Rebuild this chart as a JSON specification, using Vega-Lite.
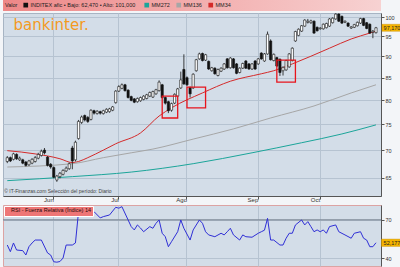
{
  "$schema": "https://vega.github.io/schema/vega-lite/v6.json",
  "background": "#f3f5f8",
  "padding": {"left": 1, "top": 0, "right": 0, "bottom": 0},
  "spacing": 1,
  "resolve": {"scale": {"x": "shared", "fill": "independent", "stroke": "independent", "color": "independent"}, "legend": {"fill": "independent", "stroke": "independent"}},
  "datasets": {
    "k": [
      {"d":"05-11","o":67.9,"h":68.9,"l":67.6,"c":68.6},
      {"d":"05-14","o":68.6,"h":68.8,"l":67.8,"c":68.0},
      {"d":"05-15","o":68.3,"h":69.5,"l":68.1,"c":69.3},
      {"d":"05-16","o":69.2,"h":69.4,"l":68.2,"c":68.4},
      {"d":"05-17","o":68.2,"h":68.8,"l":68.0,"c":68.5},
      {"d":"05-18","o":68.2,"h":68.4,"l":67.4,"c":67.6},
      {"d":"05-21","o":67.8,"h":68.0,"l":67.0,"c":67.2},
      {"d":"05-22","o":67.3,"h":68.2,"l":67.1,"c":68.0},
      {"d":"05-23","o":67.6,"h":68.5,"l":67.4,"c":68.3},
      {"d":"05-24","o":67.9,"h":68.9,"l":67.7,"c":68.6},
      {"d":"05-25","o":68.5,"h":69.5,"l":68.3,"c":69.2},
      {"d":"05-28","o":69.0,"h":70.1,"l":68.8,"c":69.8},
      {"d":"05-29","o":70.0,"h":70.4,"l":69.2,"c":69.5},
      {"d":"05-30","o":68.7,"h":68.9,"l":67.0,"c":67.2},
      {"d":"05-31","o":67.4,"h":67.6,"l":66.6,"c":66.9},
      {"d":"06-01","o":66.8,"h":67.0,"l":64.9,"c":65.1},
      {"d":"06-04","o":64.6,"h":65.5,"l":64.3,"c":65.3},
      {"d":"06-05","o":65.2,"h":66.0,"l":64.9,"c":65.8},
      {"d":"06-06","o":65.6,"h":66.5,"l":65.4,"c":66.3},
      {"d":"06-07","o":66.2,"h":67.0,"l":66.0,"c":66.7},
      {"d":"06-08","o":66.6,"h":67.7,"l":66.4,"c":67.5},
      {"d":"06-11","o":70.4,"h":70.8,"l":66.5,"c":68.0},
      {"d":"06-12","o":68.2,"h":71.8,"l":67.9,"c":71.5},
      {"d":"06-13","o":72.2,"h":75.9,"l":72.0,"c":75.6},
      {"d":"06-14","o":75.4,"h":76.8,"l":75.1,"c":76.5},
      {"d":"06-15","o":76.8,"h":77.0,"l":75.6,"c":75.9},
      {"d":"06-18","o":76.4,"h":76.7,"l":75.3,"c":75.6},
      {"d":"06-19","o":76.0,"h":78.1,"l":75.8,"c":77.9},
      {"d":"06-20","o":77.8,"h":78.0,"l":77.0,"c":77.3},
      {"d":"06-21","o":77.2,"h":77.9,"l":77.0,"c":77.7},
      {"d":"06-22","o":77.6,"h":77.8,"l":77.0,"c":77.3},
      {"d":"06-25","o":77.2,"h":78.0,"l":77.0,"c":77.8},
      {"d":"06-26","o":77.5,"h":78.3,"l":77.3,"c":78.1},
      {"d":"06-27","o":77.6,"h":78.4,"l":77.4,"c":78.2},
      {"d":"06-28","o":77.9,"h":78.8,"l":77.7,"c":78.6},
      {"d":"06-29","o":79.5,"h":82.2,"l":79.3,"c":82.0},
      {"d":"07-02","o":82.0,"h":83.3,"l":81.8,"c":83.0},
      {"d":"07-03","o":82.6,"h":83.7,"l":82.4,"c":83.4},
      {"d":"07-04","o":83.4,"h":83.6,"l":81.9,"c":82.1},
      {"d":"07-05","o":82.2,"h":82.4,"l":80.4,"c":80.6},
      {"d":"07-06","o":80.8,"h":81.0,"l":79.8,"c":80.0},
      {"d":"07-09","o":80.3,"h":80.5,"l":79.4,"c":79.6},
      {"d":"07-10","o":79.7,"h":80.6,"l":79.5,"c":80.4},
      {"d":"07-11","o":79.9,"h":80.8,"l":79.7,"c":80.6},
      {"d":"07-12","o":80.2,"h":81.1,"l":80.0,"c":80.9},
      {"d":"07-13","o":80.4,"h":81.4,"l":80.2,"c":81.2},
      {"d":"07-16","o":80.9,"h":81.9,"l":80.7,"c":81.7},
      {"d":"07-17","o":80.7,"h":82.1,"l":80.5,"c":81.9},
      {"d":"07-18","o":81.4,"h":82.5,"l":81.2,"c":82.3},
      {"d":"07-19","o":82.1,"h":84.4,"l":81.9,"c":84.0},
      {"d":"07-20","o":83.4,"h":83.6,"l":80.4,"c":80.6},
      {"d":"07-23","o":80.6,"h":80.8,"l":79.1,"c":79.4},
      {"d":"07-24","o":79.7,"h":79.9,"l":77.3,"c":77.8},
      {"d":"07-25","o":77.9,"h":79.5,"l":77.6,"c":79.3},
      {"d":"07-26","o":79.4,"h":81.5,"l":79.2,"c":81.3},
      {"d":"07-27","o":80.9,"h":82.7,"l":80.7,"c":82.5},
      {"d":"07-30","o":82.7,"h":86.4,"l":82.5,"c":84.5},
      {"d":"07-31","o":86.9,"h":90.5,"l":83.4,"c":83.6},
      {"d":"08-01","o":85.0,"h":85.3,"l":83.1,"c":83.4},
      {"d":"08-02","o":82.8,"h":83.0,"l":80.6,"c":81.4},
      {"d":"08-03","o":82.7,"h":86.0,"l":82.5,"c":85.8},
      {"d":"08-06","o":86.6,"h":89.4,"l":86.4,"c":89.2},
      {"d":"08-07","o":89.4,"h":90.9,"l":89.2,"c":90.6},
      {"d":"08-08","o":90.7,"h":90.9,"l":88.8,"c":89.0},
      {"d":"08-09","o":89.1,"h":90.6,"l":88.9,"c":90.4},
      {"d":"08-10","o":88.8,"h":89.0,"l":86.8,"c":87.0},
      {"d":"08-13","o":86.6,"h":87.5,"l":86.4,"c":87.3},
      {"d":"08-14","o":87.2,"h":87.4,"l":85.7,"c":85.9},
      {"d":"08-15","o":85.5,"h":87.1,"l":85.3,"c":86.9},
      {"d":"08-16","o":86.5,"h":87.4,"l":86.3,"c":87.2},
      {"d":"08-17","o":87.0,"h":88.4,"l":86.8,"c":88.2},
      {"d":"08-20","o":89.4,"h":89.6,"l":87.1,"c":87.3},
      {"d":"08-21","o":87.3,"h":89.8,"l":87.1,"c":89.6},
      {"d":"08-22","o":89.4,"h":89.6,"l":87.1,"c":87.3},
      {"d":"08-23","o":88.2,"h":88.4,"l":85.8,"c":86.0},
      {"d":"08-24","o":86.2,"h":87.4,"l":86.0,"c":87.2},
      {"d":"08-27","o":87.2,"h":88.5,"l":87.0,"c":88.3},
      {"d":"08-28","o":88.9,"h":89.1,"l":87.0,"c":87.2},
      {"d":"08-29","o":88.2,"h":88.4,"l":86.8,"c":87.0},
      {"d":"08-30","o":87.0,"h":88.4,"l":86.8,"c":88.2},
      {"d":"08-31","o":88.9,"h":89.1,"l":86.8,"c":87.0},
      {"d":"09-03","o":88.2,"h":89.6,"l":88.0,"c":89.4},
      {"d":"09-04","o":90.8,"h":91.0,"l":89.2,"c":89.4},
      {"d":"09-05","o":88.9,"h":90.8,"l":88.7,"c":90.6},
      {"d":"09-06","o":90.6,"h":96.2,"l":90.4,"c":95.5},
      {"d":"09-07","o":93.8,"h":94.2,"l":89.0,"c":89.2},
      {"d":"09-10","o":89.0,"h":90.7,"l":88.8,"c":90.5},
      {"d":"09-11","o":89.7,"h":89.9,"l":87.5,"c":87.7},
      {"d":"09-12","o":89.3,"h":89.5,"l":85.4,"c":86.2},
      {"d":"09-13","o":86.6,"h":87.6,"l":85.5,"c":87.4},
      {"d":"09-14","o":86.8,"h":89.2,"l":86.6,"c":89.0},
      {"d":"09-17","o":87.5,"h":90.8,"l":87.3,"c":90.6},
      {"d":"09-18","o":89.0,"h":92.2,"l":88.8,"c":92.0},
      {"d":"09-19","o":93.8,"h":96.4,"l":93.6,"c":96.2},
      {"d":"09-20","o":95.2,"h":97.0,"l":95.0,"c":96.8},
      {"d":"09-21","o":96.3,"h":97.9,"l":96.1,"c":97.7},
      {"d":"09-24","o":97.6,"h":99.4,"l":97.4,"c":99.2},
      {"d":"09-25","o":98.6,"h":99.5,"l":98.3,"c":98.9},
      {"d":"09-26","o":98.5,"h":99.3,"l":98.2,"c":99.0},
      {"d":"09-27","o":98.9,"h":99.1,"l":95.6,"c":95.8},
      {"d":"09-28","o":97.3,"h":97.5,"l":96.2,"c":96.4},
      {"d":"10-01","o":96.9,"h":97.3,"l":96.7,"c":97.1},
      {"d":"10-02","o":96.9,"h":98.3,"l":96.7,"c":98.1},
      {"d":"10-03","o":97.2,"h":98.5,"l":97.0,"c":98.3},
      {"d":"10-04","o":97.6,"h":99.7,"l":97.4,"c":99.5},
      {"d":"10-05","o":98.5,"h":99.9,"l":98.3,"c":99.7},
      {"d":"10-08","o":99.5,"h":101.0,"l":99.3,"c":100.8},
      {"d":"10-09","o":100.8,"h":101.0,"l":98.7,"c":98.9},
      {"d":"10-10","o":100.2,"h":100.4,"l":98.2,"c":98.4},
      {"d":"10-11","o":98.6,"h":99.1,"l":98.4,"c":98.9},
      {"d":"10-12","o":98.4,"h":98.6,"l":97.4,"c":97.6},
      {"d":"10-15","o":97.1,"h":97.6,"l":96.9,"c":97.4},
      {"d":"10-16","o":97.3,"h":98.2,"l":97.1,"c":98.0},
      {"d":"10-17","o":97.7,"h":98.8,"l":97.5,"c":98.6},
      {"d":"10-18","o":98.4,"h":99.8,"l":98.2,"c":99.6},
      {"d":"10-19","o":99.6,"h":99.8,"l":97.6,"c":97.8},
      {"d":"10-22","o":98.5,"h":98.7,"l":96.8,"c":97.0},
      {"d":"10-23","o":98.1,"h":98.3,"l":95.6,"c":95.8},
      {"d":"10-24","o":96.0,"h":96.6,"l":94.5,"c":96.3},
      {"d":"10-25","o":95.9,"h":97.4,"l":95.7,"c":97.17}
    ],
    "ma": [
      {"d":"05-11","s":"MM34","v":69.9},{"d":"05-24","s":"MM34","v":69.3},{"d":"06-05","s":"MM34","v":68.4},{"d":"06-11","s":"MM34","v":67.7},{"d":"06-13","s":"MM34","v":67.9},{"d":"06-18","s":"MM34","v":68.6},{"d":"06-25","s":"MM34","v":70.0},{"d":"06-29","s":"MM34","v":71.2},{"d":"07-11","s":"MM34","v":73.3},{"d":"07-19","s":"MM34","v":76.7},{"d":"07-25","s":"MM34","v":78.4},{"d":"08-08","s":"MM34","v":81.6},{"d":"08-21","s":"MM34","v":84.2},{"d":"09-04","s":"MM34","v":85.9},{"d":"09-10","s":"MM34","v":86.6},{"d":"09-18","s":"MM34","v":88.2},{"d":"10-04","s":"MM34","v":92.0},{"d":"10-15","s":"MM34","v":94.3},{"d":"10-23","s":"MM34","v":95.8},{"d":"10-25","s":"MM34","v":96.3},
      {"d":"05-11","s":"MM136","v":66.9},{"d":"06-11","s":"MM136","v":67.5},{"d":"06-25","s":"MM136","v":68.6},{"d":"07-06","s":"MM136","v":69.5},{"d":"07-17","s":"MM136","v":70.2},{"d":"08-03","s":"MM136","v":72.1},{"d":"08-22","s":"MM136","v":74.1},{"d":"09-07","s":"MM136","v":76.3},{"d":"09-27","s":"MM136","v":78.8},{"d":"10-15","s":"MM136","v":81.6},{"d":"10-25","s":"MM136","v":83.4},
      {"d":"05-11","s":"MM272","v":64.5},{"d":"06-11","s":"MM272","v":65.2},{"d":"07-06","s":"MM272","v":66.0},{"d":"08-03","s":"MM272","v":67.5},{"d":"08-30","s":"MM272","v":69.5},{"d":"09-21","s":"MM272","v":71.4},{"d":"10-10","s":"MM272","v":73.1},{"d":"10-25","s":"MM272","v":74.9}
    ],
    "rsi": [
      {"d":"05-11","v":50.4},{"d":"05-14","v":45.2},{"d":"05-15","v":52.0},{"d":"05-16","v":46.5},{"d":"05-18","v":46.0},{"d":"05-21","v":42.6},{"d":"05-22","v":49.1},{"d":"05-23","v":52.0},{"d":"05-24","v":54.3},{"d":"05-28","v":54.3},{"d":"05-30","v":44.2},{"d":"05-31","v":42.6},{"d":"06-01","v":37.3},{"d":"06-04","v":37.0},{"d":"06-05","v":37.5},{"d":"06-06","v":40.2},{"d":"06-07","v":50.4},{"d":"06-11","v":50.4},{"d":"06-12","v":52.0},{"d":"06-13","v":76.5},{"d":"06-14","v":76.0},{"d":"06-15","v":76.5},{"d":"06-18","v":73.1},{"d":"06-20","v":76.5},{"d":"06-22","v":71.6},{"d":"06-25","v":72.6},{"d":"06-27","v":73.9},{"d":"06-29","v":79.9},{"d":"07-02","v":79.2},{"d":"07-03","v":80.4},{"d":"07-05","v":70.0},{"d":"07-06","v":64.8},{"d":"07-09","v":62.2},{"d":"07-10","v":66.1},{"d":"07-11","v":63.7},{"d":"07-12","v":60.8},{"d":"07-16","v":64.8},{"d":"07-17","v":63.5},{"d":"07-18","v":67.4},{"d":"07-19","v":70.0},{"d":"07-20","v":59.6},{"d":"07-23","v":56.9},{"d":"07-24","v":49.1},{"d":"07-25","v":53.0},{"d":"07-27","v":60.8},{"d":"07-30","v":70.0},{"d":"07-31","v":63.5},{"d":"08-02","v":54.3},{"d":"08-03","v":62.2},{"d":"08-07","v":70.0},{"d":"08-08","v":67.4},{"d":"08-09","v":60.8},{"d":"08-10","v":58.3},{"d":"08-14","v":56.9},{"d":"08-16","v":59.6},{"d":"08-17","v":58.3},{"d":"08-20","v":60.8},{"d":"08-21","v":63.5},{"d":"08-22","v":58.3},{"d":"08-24","v":54.3},{"d":"08-27","v":58.3},{"d":"08-28","v":56.9},{"d":"08-30","v":56.5},{"d":"09-03","v":59.6},{"d":"09-04","v":60.8},{"d":"09-05","v":62.0},{"d":"09-06","v":71.3},{"d":"09-07","v":54.3},{"d":"09-10","v":54.3},{"d":"09-12","v":50.4},{"d":"09-13","v":50.4},{"d":"09-14","v":55.7},{"d":"09-17","v":59.6},{"d":"09-18","v":59.6},{"d":"09-19","v":66.1},{"d":"09-21","v":70.0},{"d":"09-24","v":66.1},{"d":"09-25","v":68.7},{"d":"09-26","v":64.8},{"d":"09-27","v":60.8},{"d":"09-28","v":62.2},{"d":"10-01","v":60.8},{"d":"10-02","v":62.2},{"d":"10-03","v":59.6},{"d":"10-04","v":64.8},{"d":"10-08","v":66.1},{"d":"10-09","v":60.8},{"d":"10-11","v":58.3},{"d":"10-15","v":55.7},{"d":"10-16","v":59.6},{"d":"10-18","v":60.8},{"d":"10-19","v":55.7},{"d":"10-22","v":54.3},{"d":"10-23","v":49.1},{"d":"10-24","v":49.1},{"d":"10-25","v":52.177}
    ]
  },
  "vconcat": [
    {
      "width": 378,
      "height": 11,
      "view": {"fill": {"gradient": "linear", "x1": 0, "y1": 0, "x2": 1, "y2": 0, "stops": [{"offset": 0, "color": "#ee8787"}, {"offset": 1, "color": "#f7d2d2"}]}, "stroke": null},
      "data": {"values": [{"s": "INDITEX"}, {"s": "MM272"}, {"s": "MM136"}, {"s": "MM34"}]},
      "mark": {"type": "square", "opacity": 0},
      "encoding": {
        "fill": {
          "field": "s", "type": "nominal",
          "scale": {"domain": ["INDITEX", "MM272", "MM136", "MM34"], "range": ["#111111", "#1ca59a", "#a6a6a6", "#d42a2a"]},
          "legend": {
            "orient": "top-left", "offset": 0, "direction": "horizontal", "padding": 2,
            "title": "Valor", "titleOrient": "left", "titleFont": "Liberation Sans", "titleFontSize": 5.5, "titleFontWeight": "normal", "titleColor": "#222", "titlePadding": 5,
            "labelFont": "Liberation Sans", "labelFontSize": 5.5, "labelColor": "#222", "labelOffset": 2, "labelLimit": 300,
            "symbolType": "square", "symbolSize": 22, "symbolOpacity": 1, "symbolStrokeWidth": 0, "columnPadding": 6,
            "labelExpr": "datum.value == 'INDITEX' ? 'INDITEX  afic • Bajo: 62,470 • Alto: 101,000' : datum.value"
          }
        }
      }
    },
    {
      "width": 378,
      "height": 183,
      "view": {"fill": "#d3dde8", "stroke": "#a7b4c3"},
      "layer": [
        {
          "data": {"values": [{"t": "bankinter."}]},
          "mark": {"type": "text", "align": "left", "baseline": "alphabetic", "font": "DejaVu Sans", "fontSize": 15, "color": "#f39a1f"},
          "encoding": {
            "x": {"datum": "05-15", "type": "ordinal"},
            "y": {"datum": 96.6, "type": "quantitative"},
            "text": {"field": "t"}
          }
        },
        {
          "data": {"values": [{"t": "© IT-Finanzas.com   Selección del período: Diario"}]},
          "mark": {"type": "text", "align": "left", "baseline": "middle", "font": "Liberation Sans", "fontSize": 5, "color": "#444", "dx": -3},
          "encoding": {
            "x": {"datum": "05-11", "type": "ordinal"},
            "y": {"datum": 62.7, "type": "quantitative"},
            "text": {"field": "t"}
          }
        },
        {
          "data": {"name": "ma"},
          "mark": {"type": "line", "strokeWidth": 1, "interpolate": "monotone"},
          "encoding": {
            "x": {"field": "d", "type": "ordinal", "title": null},
            "y": {"field": "v", "type": "quantitative", "title": null},
            "color": {"field": "s", "type": "nominal", "scale": {"domain": ["MM272", "MM136", "MM34"], "range": ["#1ca59a", "#a6a6a6", "#d42a2a"]}, "legend": null}
          }
        },
        {
          "data": {"name": "k"},
          "mark": {"type": "rule", "color": "#111", "strokeWidth": 0.8},
          "encoding": {
            "x": {"field": "d", "type": "ordinal", "title": null},
            "y": {"field": "l", "type": "quantitative", "title": null},
            "y2": {"field": "h"}
          }
        },
        {
          "data": {"name": "k"},
          "mark": {"type": "bar", "width": {"band": 0.72}, "stroke": "#111", "strokeWidth": 0.6},
          "encoding": {
            "x": {
              "field": "d", "type": "ordinal", "title": null,
              "scale": {"paddingInner": 0, "paddingOuter": 1.16, "align": 0.44},
              "axis": {
                "values": ["06-01", "07-02", "08-01", "09-03", "10-01"],
                "labelExpr": "datum.value == '06-01' ? 'Jun' : datum.value == '07-02' ? 'Jul' : datum.value == '08-01' ? 'Ago' : datum.value == '09-03' ? 'Sep' : 'Oct'",
                "labelAngle": 0, "labelFont": "Liberation Sans", "labelFontSize": 6, "labelColor": "#333", "labelPadding": 0,
                "grid": true, "gridColor": "#b6c3d1", "tickSize": 3, "tickColor": "#555", "domainColor": "#555"
              }
            },
            "y": {
              "field": "o", "type": "quantitative", "title": null,
              "scale": {"type": "log", "domain": [61.9, 101.1], "nice": false, "zero": false},
              "axis": {
                "orient": "right", "values": [65, 70, 75, 80, 85, 90, 95, 100], "format": "d",
                "labelFont": "Liberation Sans", "labelFontSize": 5.5, "labelColor": "#333", "labelPadding": 1,
                "grid": true, "gridColor": "#b6c3d1", "tickSize": 3, "tickColor": "#555", "domainColor": "#555"
              }
            },
            "y2": {"field": "c"},
            "fill": {"condition": {"test": "datum.c >= datum.o", "value": "#ffffff"}, "value": "#111111"}
          }
        },
        {
          "data": {"values": [
            {"a": "07-20", "b": "07-27", "lo": 76.3, "hi": 80.9},
            {"a": "08-01", "b": "08-09", "lo": 78.4, "hi": 82.9},
            {"a": "09-11", "b": "09-19", "lo": 84.0, "hi": 89.1}
          ]},
          "mark": {"type": "rect", "fill": null, "stroke": "#e8141c", "strokeWidth": 1.3},
          "encoding": {
            "x": {"field": "a", "type": "ordinal", "title": null},
            "x2": {"field": "b"},
            "y": {"field": "lo", "type": "quantitative", "title": null},
            "y2": {"field": "hi"}
          }
        },
        {
          "data": {"values": [{"d": "10-25", "v": 97.17, "t": "97,170"}]},
          "layer": [
            {
              "mark": {"type": "point", "shape": "M-1,-0.35H1V0.35H-1Z", "size": 400, "filled": true, "fill": "#f5b400", "stroke": "#c58a00", "strokeWidth": 0.4, "opacity": 1, "xOffset": 16},
              "encoding": {
                "x": {"field": "d", "type": "ordinal", "title": null},
                "y": {"field": "v", "type": "quantitative", "title": null}
              }
            },
            {
              "mark": {"type": "text", "font": "Liberation Sans", "fontSize": 5.5, "color": "#222", "xOffset": 16, "baseline": "middle"},
              "encoding": {
                "x": {"field": "d", "type": "ordinal", "title": null},
                "y": {"field": "v", "type": "quantitative", "title": null},
                "text": {"field": "t"}
              }
            }
          ]
        }
      ]
    },
    {
      "width": 378,
      "height": 61,
      "view": {"fill": "#d3dde8", "stroke": "#dca3a3"},
      "layer": [
        {
          "data": {"values": [{}]},
          "mark": {"type": "rule", "color": "#7f8a98", "strokeWidth": 1.2},
          "encoding": {"y": {"datum": 70, "type": "quantitative"}}
        },
        {
          "data": {"name": "rsi"},
          "mark": {"type": "line", "strokeWidth": 1},
          "encoding": {
            "x": {
              "field": "d", "type": "ordinal", "title": null,
              "axis": {"values": ["06-01", "07-02", "08-01", "09-03", "10-01"], "labels": false, "ticks": false, "domain": false, "grid": true, "gridColor": "#b6c3d1"}
            },
            "y": {
              "field": "v", "type": "quantitative", "title": null,
              "scale": {"domain": [34, 81.7], "nice": false, "zero": false},
              "axis": {
                "orient": "right", "values": [40, 50, 60, 70],
                "labelFont": "Liberation Sans", "labelFontSize": 5.5, "labelColor": "#333", "labelPadding": 1,
                "grid": true, "gridColor": "#b6c3d1", "tickSize": 3, "tickColor": "#555", "domainColor": "#555"
              }
            },
            "stroke": {
              "datum": "RSI - Fuerza Relativa (Índice) 14", "type": "nominal",
              "scale": {"range": ["#2f2fd6"]},
              "legend": {
                "orient": "top-left", "offset": 1, "padding": 1.5, "title": null,
                "fillColor": "#ee7676", "strokeColor": "#ffffff",
                "labelFont": "Liberation Sans", "labelFontSize": 5.5, "labelColor": "#2a0a0a", "labelOffset": 0, "labelLimit": 300,
                "symbolSize": 0, "symbolStrokeWidth": 0, "symbolType": "circle"
              }
            }
          }
        },
        {
          "data": {"values": [{"d": "10-25", "v": 52.177, "t": "52,177"}]},
          "layer": [
            {
              "mark": {"type": "point", "shape": "M-1,-0.35H1V0.35H-1Z", "size": 441, "filled": true, "fill": "#f5b400", "stroke": "#c58a00", "strokeWidth": 0.4, "opacity": 1, "xOffset": 16},
              "encoding": {
                "x": {"field": "d", "type": "ordinal", "title": null},
                "y": {"field": "v", "type": "quantitative", "title": null}
              }
            },
            {
              "mark": {"type": "text", "font": "Liberation Sans", "fontSize": 5.5, "color": "#222", "xOffset": 16, "baseline": "middle"},
              "encoding": {
                "x": {"field": "d", "type": "ordinal", "title": null},
                "y": {"field": "v", "type": "quantitative", "title": null},
                "text": {"field": "t"}
              }
            }
          ]
        }
      ]
    }
  ]
}
